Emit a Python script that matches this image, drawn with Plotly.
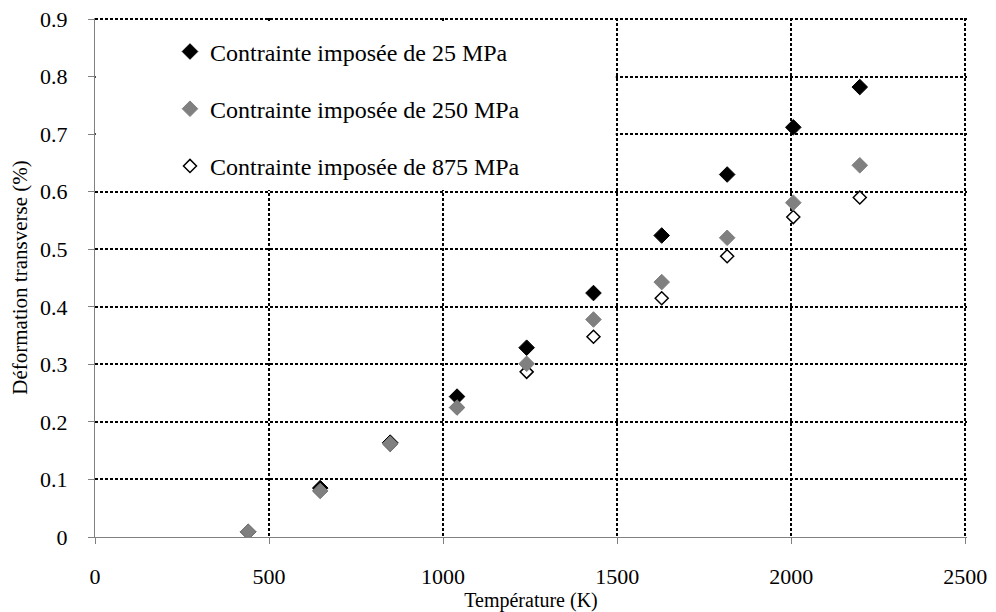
import plotly.graph_objects as go

temperature = [440, 647, 848, 1040, 1240, 1432, 1628, 1816, 2006, 2197]
s25 = [0.009, 0.085, 0.164, 0.244, 0.329, 0.424, 0.524, 0.630, 0.712, 0.782]
s250 = [0.009, 0.080, 0.162, 0.225, 0.301, 0.378, 0.443, 0.520, 0.581, 0.646]
s875 = [0.009, 0.080, 0.161, 0.225, 0.287, 0.348, 0.415, 0.488, 0.556, 0.590]

names = ["Contrainte imposée de 25 MPa",
         "Contrainte imposée de 250 MPa",
         "Contrainte imposée de 875 MPa"]

xticks = [0, 500, 1000, 1500, 2000, 2500]
yticks = [0, 0.1, 0.2, 0.3, 0.4, 0.5, 0.6, 0.7, 0.8, 0.9]
yticklabels = ["0", "0.1", "0.2", "0.3", "0.4", "0.5", "0.6", "0.7", "0.8", "0.9"]

FONT = "Liberation Serif, Times New Roman, serif"

fig = go.Figure()
# draw order: black, white, gray (gray on top); legend order via legendrank
fig.add_trace(go.Scatter(x=temperature, y=s25, mode="markers", name=names[0],
                         legendgroup="a", legendrank=1,
                         marker=dict(symbol="diamond", size=12, color="black",
                                     line=dict(color="black", width=1))))
fig.add_trace(go.Scatter(x=temperature, y=s875, mode="markers", name=names[2],
                         legendgroup="c", legendrank=3,
                         marker=dict(symbol="diamond", size=10, color="white",
                                     line=dict(color="black", width=1.5))))
fig.add_trace(go.Scatter(x=temperature, y=s250, mode="markers", name=names[1],
                         legendgroup="b", legendrank=2,
                         marker=dict(symbol="diamond", size=12, color="#808080",
                                     line=dict(color="#808080", width=1))))

# white backdrop behind the legend (covers gridlines like the original)
fig.add_shape(type="rect", xref="x", yref="y", x0=2, x1=1496, y0=0.603, y1=0.897,
              fillcolor="white", line=dict(width=0), layer="between")

fig.update_layout(
    template="none",
    width=996, height=612,
    margin=dict(l=87, r=37, t=10, b=83),
    paper_bgcolor="white", plot_bgcolor="white",
    font=dict(family=FONT, size=22, color="black"),
    showlegend=True,
    legend=dict(x=0.086, y=0.978, xanchor="left", yanchor="top",
                bgcolor="rgba(0,0,0,0)", font=dict(family=FONT, size=24),
                traceorder="grouped", tracegroupgap=23, itemwidth=30),
)
fig.update_xaxes(range=[0, 2505], tickvals=xticks, automargin=False,
                 showgrid=True, gridcolor="black", gridwidth=1.5, griddash="3px,2px",
                 zeroline=False, showline=True, linecolor="#808080", linewidth=1,
                 ticks="outside", ticklen=6, tickcolor="#808080", tickwidth=1,
                 ticklabelstandoff=14, tickfont=dict(size=22), ticklabeloverflow="allow",
                 title=dict(text="Température (K)", font=dict(size=20), standoff=4))
fig.update_yaxes(range=[0, 0.902], tickvals=yticks, ticktext=yticklabels, automargin=False,
                 showgrid=True, gridcolor="black", gridwidth=1.5, griddash="3px,2px",
                 zeroline=False, showline=True, linecolor="#808080", linewidth=1,
                 ticks="outside", ticklen=6, tickcolor="#808080", tickwidth=1,
                 ticklabelstandoff=16, tickfont=dict(size=22), ticklabeloverflow="allow",
                 title=dict(text="Déformation transverse (%)", font=dict(size=21), standoff=12))

fig.write_html("out.html")
